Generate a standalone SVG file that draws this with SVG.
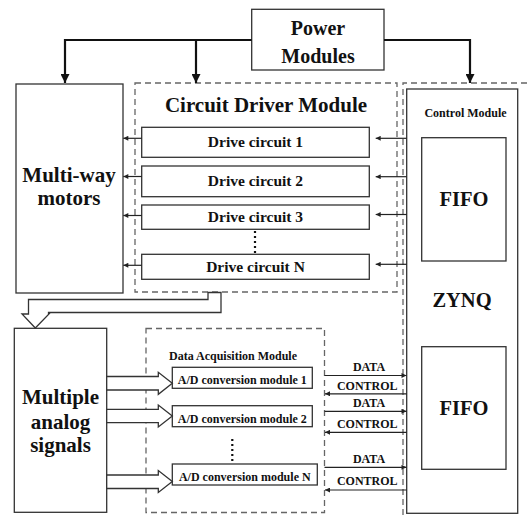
<svg xmlns="http://www.w3.org/2000/svg" width="531" height="515" viewBox="0 0 531 515">
<style>
text{font-family:'Liberation Serif','Times New Roman',Tinos,'DejaVu Serif',serif;font-weight:700;fill:#111;text-anchor:middle}
.box{fill:#fff;stroke:#333;stroke-width:1.3}
.dash{fill:none;stroke:#666;stroke-width:1.3;stroke-dasharray:6,4}
.pw{fill:none;stroke:#111;stroke-width:2.2}
.ln{fill:none;stroke:#222;stroke-width:1.2}
.hol{fill:#fff;stroke:#333;stroke-width:1.3}
.dots{fill:none;stroke:#111;stroke-width:2.2;stroke-dasharray:2,3}
</style>
<defs>
<marker id="big" viewBox="0 0 10 10" refX="10" refY="5" markerWidth="10" markerHeight="9" markerUnits="userSpaceOnUse" orient="auto"><path d="M0,0 L10,5 L0,10 z" fill="#111"/></marker>
<marker id="sm" viewBox="0 0 10 10" refX="10" refY="5" markerWidth="6" markerHeight="5" markerUnits="userSpaceOnUse" orient="auto"><path d="M0,0 L10,5 L0,10 z" fill="#222"/></marker>
</defs>

<g id="circuit-driver-module">
<rect class="dash" x="135" y="83" width="262" height="209"/>
<text x="266" y="112" font-size="21">Circuit Driver Module</text>
</g>
<g id="control-module">
<path class="dash" d="M403,515 V83 H531"/>
</g>
<g id="data-acquisition-module">
<rect class="dash" x="146" y="328.5" width="178.5" height="184"/>
<text x="233" y="360" font-size="12">Data Acquisition Module</text>
</g>

<g id="power-modules">
<rect class="box" x="251.7" y="9.3" width="132.3" height="60.7" stroke-width="1.5"/>
<text x="318" y="35" font-size="20">Power</text>
<text x="318" y="63" font-size="20">Modules</text>
</g>

<g id="multi-way-motors">
<rect class="box" x="16" y="84" width="107" height="209"/>
<text x="69" y="182" font-size="21">Multi-way</text>
<text x="69" y="205" font-size="21">motors</text>
</g>

<g id="drive-circuit-1">
<rect class="box" x="141.7" y="127.3" width="227.6" height="30"/>
<text x="255.5" y="147" font-size="15.5">Drive circuit 1</text>
</g>
<g id="drive-circuit-2">
<rect class="box" x="141.7" y="166" width="227.6" height="30.7"/>
<text x="255.5" y="186" font-size="15.5">Drive circuit 2</text>
</g>
<g id="drive-circuit-3">
<rect class="box" x="141.7" y="205" width="227.6" height="24.3"/>
<text x="255.5" y="222" font-size="15.5">Drive circuit 3</text>
</g>
<g id="drive-circuit-n">
<rect class="box" x="141.7" y="254.3" width="227.6" height="25"/>
<text x="255.5" y="272" font-size="15.5">Drive circuit N</text>
</g>
<path class="dots" d="M255,231 V254"/>

<g id="zynq">
<rect class="box" x="406.7" y="89" width="111" height="424.3"/>
<text x="465.5" y="117" font-size="12">Control Module</text>
<text x="462" y="307" font-size="20.5">ZYNQ</text>
</g>
<g id="fifo-1">
<rect class="box" x="421.7" y="137.7" width="84.3" height="123.3"/>
<text x="464" y="206" font-size="20.5">FIFO</text>
</g>
<g id="fifo-2">
<rect class="box" x="421.7" y="346.7" width="84.3" height="122.6"/>
<text x="464" y="414.5" font-size="20.5">FIFO</text>
</g>

<g id="multiple-analog-signals">
<rect class="box" x="14.3" y="328.3" width="92.4" height="184"/>
<text x="60.5" y="404" font-size="21">Multiple</text>
<text x="60.5" y="429" font-size="21">analog</text>
<text x="60.5" y="452" font-size="21">signals</text>
</g>

<g id="ad-1">
<rect class="box" x="172.3" y="367.3" width="140" height="21"/>
<text x="242.3" y="384" font-size="12">A/D conversion module 1</text>
</g>
<g id="ad-2">
<rect class="box" x="172.3" y="405.7" width="140" height="21"/>
<text x="242.3" y="422.7" font-size="12">A/D conversion module 2</text>
</g>
<g id="ad-n">
<rect class="box" x="172.3" y="464" width="145" height="21"/>
<text x="244.8" y="481" font-size="12">A/D conversion module N</text>
</g>
<path class="dots" d="M232.3,439 V461"/>

<g id="connectors">
<path class="pw" d="M251.7,40 H65 V83" marker-end="url(#big)"/>
<path class="pw" d="M196,40 V83" marker-end="url(#big)"/>
<path class="pw" d="M384,40 H470 V83" marker-end="url(#big)"/>

<path class="ln" d="M406.7,138.3 H375.7" marker-end="url(#sm)"/>
<path class="ln" d="M406.7,176.7 H375.7" marker-end="url(#sm)"/>
<path class="ln" d="M406.7,214.5 H375.7" marker-end="url(#sm)"/>
<path class="ln" d="M406.7,264.3 H375.7" marker-end="url(#sm)"/>

<path class="ln" d="M141.7,138.3 H123.3" marker-end="url(#sm)"/>
<path class="ln" d="M141.7,176.5 H123.3" marker-end="url(#sm)"/>
<path class="ln" d="M141.7,215.5 H123.3" marker-end="url(#sm)"/>
<path class="ln" d="M141.7,265.3 H123.3" marker-end="url(#sm)"/>

<polygon class="hol" points="221,292.5 221,312.5 48.5,312.5 48.5,314 49,314 35.3,328 22,314 28.5,314 28.5,299.5 208,299.5 208,292.5"/>

<polygon class="hol" points="106.7,376.5 158.3,376.5 158.3,372.3 172.3,383.3 158.3,394.3 158.3,390 106.7,390"/>
<polygon class="hol" points="106.7,409.3 158.3,409.3 158.3,405 172.3,416 158.3,427 158.3,422.7 106.7,422.7"/>
<polygon class="hol" points="106.7,475 158.3,475 158.3,470.5 172.3,481.5 158.3,492.5 158.3,488.5 106.7,488.5"/>

<path class="ln" d="M324.5,375.5 H406.5" marker-end="url(#sm)"/>
<path class="ln" d="M406.7,393.8 H325" marker-end="url(#sm)"/>
<path class="ln" d="M324.5,411.3 H406.5" marker-end="url(#sm)"/>
<path class="ln" d="M406.7,432.3 H325" marker-end="url(#sm)"/>
<path class="ln" d="M324.5,467.3 H406.5" marker-end="url(#sm)"/>
<path class="ln" d="M406.7,490 H325" marker-end="url(#sm)"/>
<text x="369" y="370.7" font-size="12">DATA</text>
<text x="367.3" y="390" font-size="12">CONTROL</text>
<text x="369" y="406.7" font-size="12">DATA</text>
<text x="367.3" y="428.3" font-size="12">CONTROL</text>
<text x="369" y="462.7" font-size="12">DATA</text>
<text x="367.3" y="485" font-size="12">CONTROL</text>
</g>
</svg>
